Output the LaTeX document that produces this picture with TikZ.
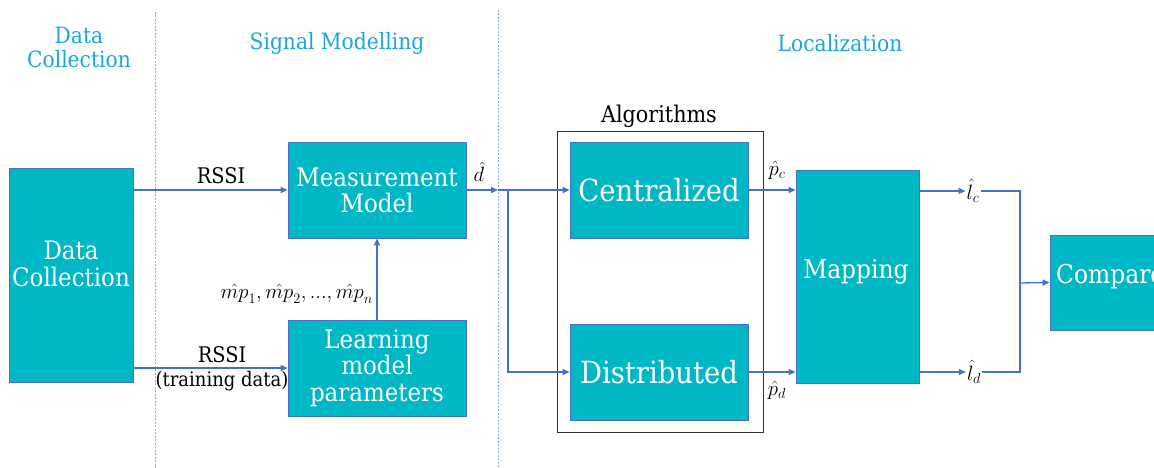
\documentclass[tikz,border=0pt]{standalone}
\usepackage[no-math]{fontspec}
\setmainfont[FakeStretch=0.9]{DejaVu Serif}
\usetikzlibrary{arrows.meta}
\definecolor{boxfill}{RGB}{0,183,198}
\definecolor{boxline}{RGB}{68,114,196}
\definecolor{arrowc}{RGB}{68,114,196}
\definecolor{titlec}{RGB}{26,167,218}
\definecolor{sepc}{RGB}{143,170,220}
\tikzset{
  blk/.style={draw=boxline, line width=0.8pt, fill=boxfill, text=white, align=center, inner sep=0pt},
  arr/.style={draw=arrowc, line width=1.3pt, -{Triangle[length=7pt,width=6pt]}},
  ln/.style={draw=arrowc, line width=1.3pt},
  ttl/.style={text=titlec, align=center, font=\fontsize{22.5}{24}\selectfont, inner sep=0pt},
  lbl/.style={align=center, font=\fontsize{20}{24}\selectfont, inner sep=0pt},
  mlbl/.style={font=\fontsize{20.5}{24}\selectfont, inner sep=1pt},
  sep/.style={draw=sepc, line width=0.8pt, dash pattern=on 2pt off 1.5pt},
}
\begin{document}
\begin{tikzpicture}[x=1pt,y=-1pt]
\useasboundingbox (0,0) rectangle (1154,468);
\clip (0,0) rectangle (1154,468);
% separators
\draw[sep] (155,12) -- (155,468);
\draw[sep] (498,10) -- (498,468);
% titles
\node[ttl] (t1) at (79,47) {Data\\Collection};
\node[ttl] (t2) at (337,43) {Signal Modelling};
\node[ttl] (t3) at (840,43) {Localization};
% algorithms frame
\node[draw=black!80, line width=0.8pt, minimum width=206pt, minimum height=301pt, inner sep=0pt] (alg) at (660,281.5) {};
\node[lbl, font=\fontsize{23}{24}\selectfont] (algt) at (659,116) {Algorithms};
% boxes
\node[blk, minimum width=124pt, minimum height=214pt] (dc) at (71,275) {};
\node[text=white, align=center, font=\fontsize{25.5}{27}\selectfont, inner sep=0pt] (dct) at (71,264) {Data\\Collection};
\node[blk, minimum width=178pt, minimum height=96pt, font=\fontsize{25.5}{26}\selectfont] (mm) at (377,190) {Measurement\\Model};
\node[blk, minimum width=178pt, minimum height=96pt, font=\fontsize{25.5}{26.5}\selectfont] (lmp) at (377,368) {Learning\\model\\parameters};
\node[blk, minimum width=178pt, minimum height=96pt, font=\fontsize{30.5}{32}\selectfont] (cen) at (659,190) {Centralized};
\node[blk, minimum width=178pt, minimum height=96pt, font=\fontsize{30.5}{32}\selectfont] (dis) at (659,372) {Distributed};
\node[blk, minimum width=123pt, minimum height=213pt] (map) at (857.5,276.5) {};
\node[text=white, font=\fontsize{26}{28}\selectfont, inner sep=0pt] (mapt) at (856,272) {Mapping};
\node[blk, minimum width=124pt, minimum height=95pt] (cmp) at (1112,282.5) {};
\node[text=white, font=\fontsize{26}{28}\selectfont, inner sep=0pt, anchor=west] (cmpt) at (1056,277) {Compare};
% labels
\node[lbl, font=\fontsize{21.5}{24}\selectfont] (rssi1) at (221,176) {RSSI};
\node[lbl] (rssi2) at (222,369) {\fontsize{21.5}{24}\selectfont RSSI\\(training data)};
\node[mlbl, anchor=east] (mp) at (374,294) {$\hat{mp}_1, \hat{mp}_2, ..., \hat{mp}_n$};
\node[mlbl] (dh) at (479,172) {$\hat{d}$};
\node[mlbl] (pc) at (777,170) {$\hat{p}_c$};
\node[mlbl] (pd) at (777,390) {$\hat{p}_d$};
\node[mlbl] (lc) at (973,191) {$\hat{l}_c$};
\node[mlbl] (ld) at (974,372) {$\hat{l}_d$};
\coordinate (dend) at (498,190);
\coordinate (split) at (508,190);
\coordinate (join) at (1020,283);
% connectors
\draw[arr] (dc.east |- mm.west) -- (mm.west);
\draw[arr] (dc.east |- lmp.west) -- (lmp.west);
\draw[arr] (lmp.north) -- (mm.south);
\draw[arr] (mm.east) -- (dend);
\draw[arr] (dend) -- (cen.west);
\draw[arr] (split) |- (dis.west);
\draw[arr] (cen.east) -- (map.west |- cen.east);
\draw[arr] (dis.east) -- (map.west |- dis.east);
\draw[arr] (map.east |- lc) -- (lc.west);
\draw[arr] (map.east |- ld) -- (ld.west);
\draw[ln] (lc.east) -| (join);
\draw[ln] (ld.east) -| (join);
\draw[arr] (join) -- (cmp.west);
\end{tikzpicture}
\end{document}
